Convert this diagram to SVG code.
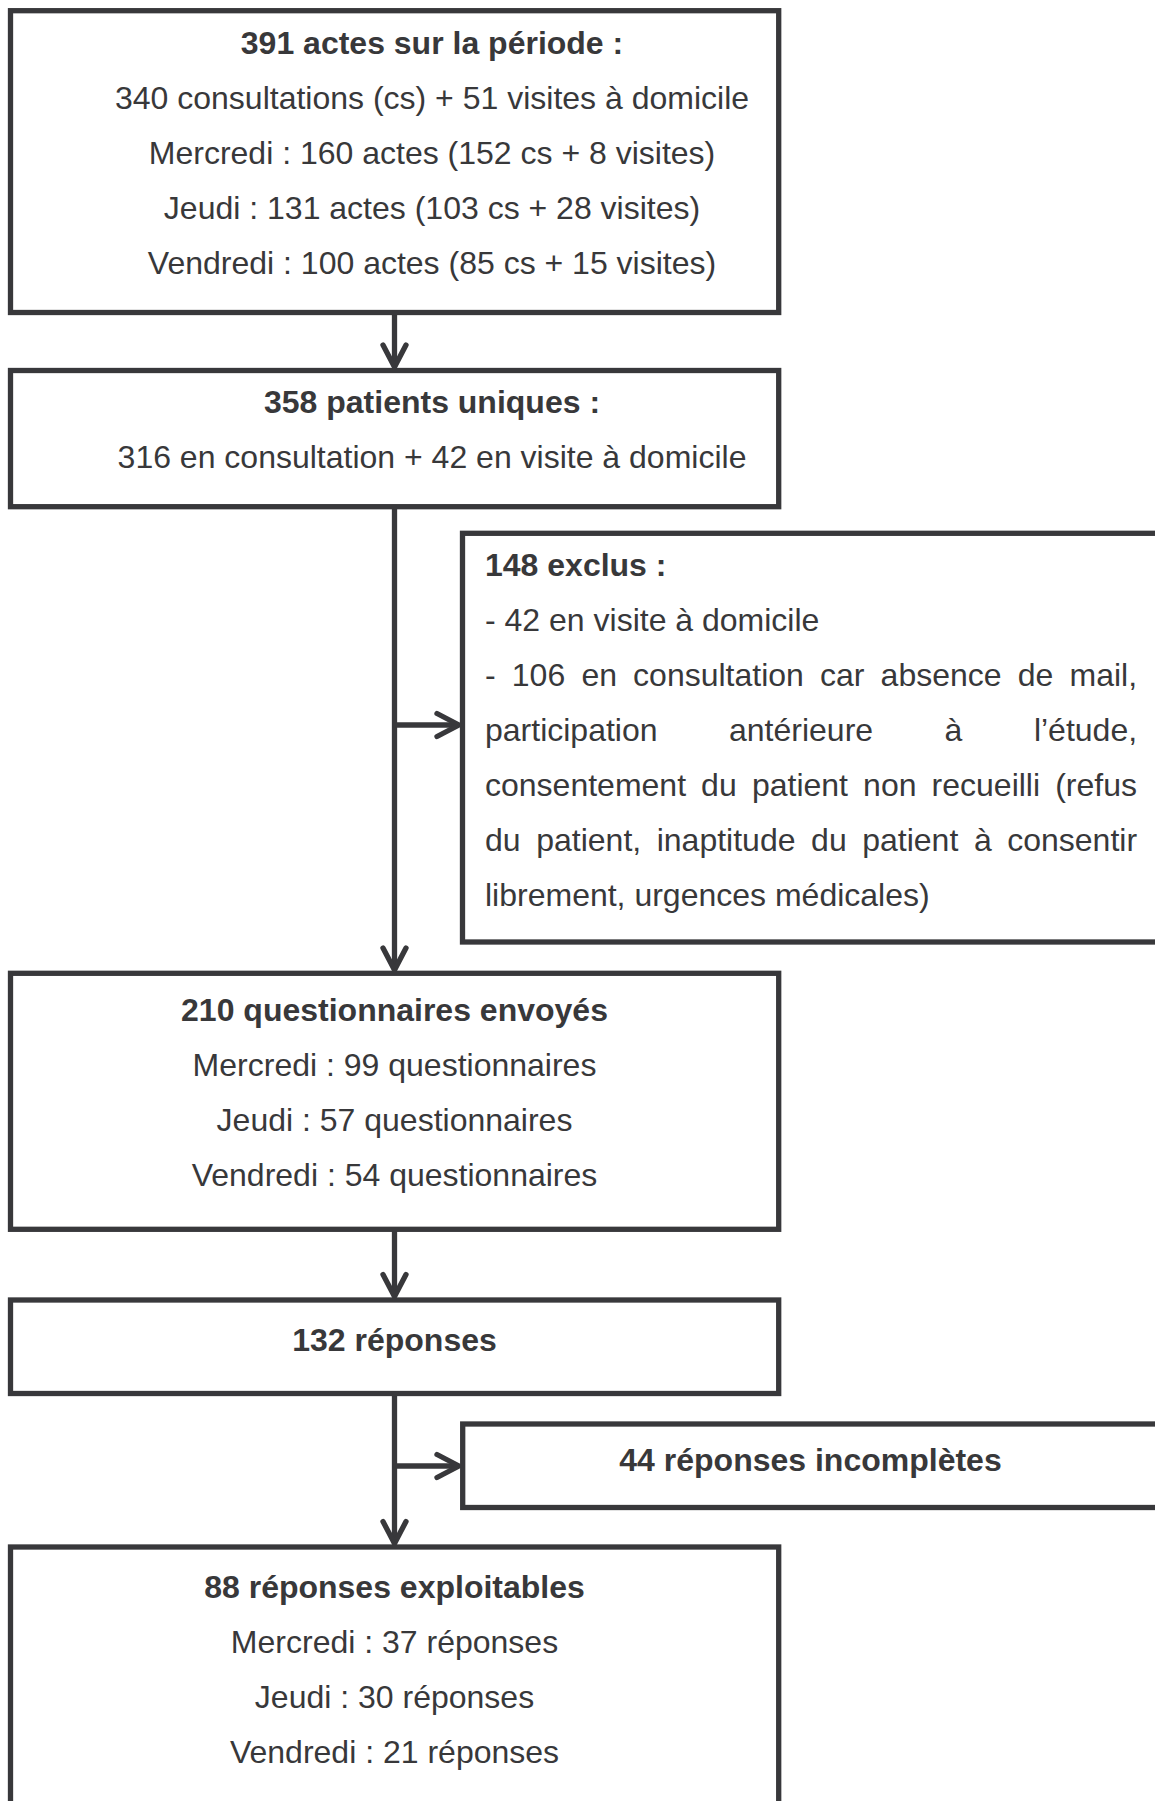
<svg xmlns="http://www.w3.org/2000/svg" width="1155" height="1801" viewBox="0 0 1155 1801">
<defs>
<style>
.box{fill:#ffffff;stroke:#38383b;stroke-width:5.3}
.conn{fill:none;stroke:#38383b;stroke-width:5.3}
text{font-family:"Liberation Sans",Arial,Helvetica,sans-serif;font-size:32px;fill:#38383a}
.b{font-weight:bold}
.c{text-anchor:middle}
</style>
<marker id="arr" markerUnits="userSpaceOnUse" viewBox="-30 -20 40 40" markerWidth="40" markerHeight="40" refX="0" refY="0" orient="auto" overflow="visible">
<path d="M-22,-11.5 L0,0 L-22,11.5" fill="none" stroke="#38383b" stroke-width="5.3" stroke-linecap="round" stroke-linejoin="round"/>
</marker>
</defs>
<rect width="1155" height="1801" fill="#ffffff"/>

<g id="connectors">
<path class="conn" d="M394.5 312.5 V367" marker-end="url(#arr)"/>
<path class="conn" d="M394.5 506.7 V970" marker-end="url(#arr)"/>
<path class="conn" d="M394.5 725 H459" marker-end="url(#arr)"/>
<path class="conn" d="M394.5 1229.3 V1296.5" marker-end="url(#arr)"/>
<path class="conn" d="M394.5 1393.5 V1543.5" marker-end="url(#arr)"/>
<path class="conn" d="M394.5 1466 H459" marker-end="url(#arr)"/>
</g>

<g id="n-actes">
<rect class="box" x="10.5" y="10.7" width="768.2" height="301.8"/>
<text class="b c" x="432" y="54">391 actes sur la période :</text>
<text class="c" x="432" y="109">340 consultations (cs) + 51 visites à domicile</text>
<text class="c" x="432" y="164">Mercredi : 160 actes (152 cs + 8 visites)</text>
<text class="c" x="432" y="219">Jeudi : 131 actes (103 cs + 28 visites)</text>
<text class="c" x="432" y="274">Vendredi : 100 actes (85 cs + 15 visites)</text>
</g>

<g id="n-patients">
<rect class="box" x="10.5" y="370.5" width="768.2" height="136.2"/>
<text class="b c" x="432" y="413">358 patients uniques :</text>
<text class="c" x="432" y="468">316 en consultation + 42 en visite à domicile</text>
</g>

<g id="n-exclus">
<rect class="box" x="462.5" y="533.3" width="740" height="408.7"/>
<text class="b" x="485" y="576">148 exclus :</text>
<text x="485" y="631">- 42 en visite à domicile</text>
<text y="686"><tspan x="485">-</tspan><tspan x="511.8">106</tspan><tspan x="581.4">en</tspan><tspan x="633.1">consultation</tspan><tspan x="820">car</tspan><tspan x="880.6">absence</tspan><tspan x="1017.8">de</tspan><tspan x="1069.5">mail,</tspan></text>
<text y="741"><tspan x="485">participation</tspan><tspan x="729">antérieure</tspan><tspan x="944.6">à</tspan><tspan x="1033.9">l’étude,</tspan></text>
<text y="796"><tspan x="485">consentement</tspan><tspan x="701.1">du</tspan><tspan x="751.9">patient</tspan><tspan x="863.1">non</tspan><tspan x="931.6">recueilli</tspan><tspan x="1055.2">(refus</tspan></text>
<text y="851"><tspan x="485">du</tspan><tspan x="536.2">patient,</tspan><tspan x="656.7">inaptitude</tspan><tspan x="811.1">du</tspan><tspan x="862.2">patient</tspan><tspan x="973.9">à</tspan><tspan x="1007.2">consentir</tspan></text>
<text x="485" y="906">librement, urgences médicales)</text>
</g>

<g id="n-envoyes">
<rect class="box" x="10.5" y="973.3" width="768.2" height="256"/>
<text class="b c" x="394.5" y="1021">210 questionnaires envoyés</text>
<text class="c" x="394.5" y="1076">Mercredi : 99 questionnaires</text>
<text class="c" x="394.5" y="1131">Jeudi : 57 questionnaires</text>
<text class="c" x="394.5" y="1186">Vendredi : 54 questionnaires</text>
</g>

<g id="n-reponses">
<rect class="box" x="10.5" y="1300" width="768.2" height="93.5"/>
<text class="b c" x="394.5" y="1351">132 réponses</text>
</g>

<g id="n-incompletes">
<rect class="box" x="462.7" y="1424" width="740" height="83.5"/>
<text class="b c" x="810.5" y="1471">44 réponses incomplètes</text>
</g>

<g id="n-exploitables">
<rect class="box" x="10.5" y="1547" width="768.2" height="320"/>
<text class="b c" x="394.5" y="1598">88 réponses exploitables</text>
<text class="c" x="394.5" y="1653">Mercredi : 37 réponses</text>
<text class="c" x="394.5" y="1708">Jeudi : 30 réponses</text>
<text class="c" x="394.5" y="1763">Vendredi : 21 réponses</text>
</g>
</svg>
